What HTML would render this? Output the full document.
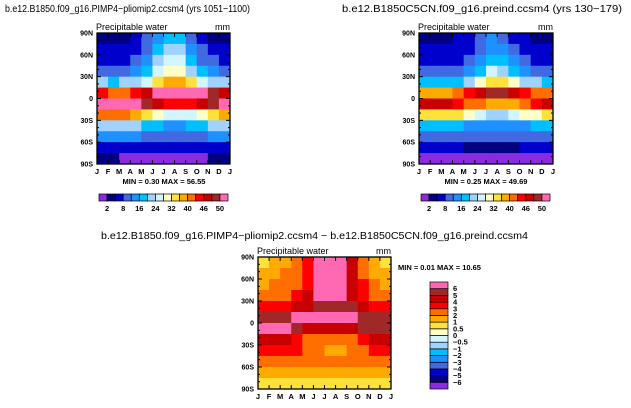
<!DOCTYPE html>
<html><head><meta charset="utf-8">
<style>
html,body{margin:0;padding:0;background:#fff;}
svg{display:block;font-family:"Liberation Sans",sans-serif;}
</style></head>
<body>
<svg id="fig" width="631" height="408" viewBox="0 0 631 408">
<text x="5" y="12" font-size="10" textLength="245" lengthAdjust="spacingAndGlyphs">b.e12.B1850.f09_g16.PIMP4−pliomip2.ccsm4 (yrs 1051−1100)</text>
<text x="342" y="12" font-size="10" textLength="280" lengthAdjust="spacingAndGlyphs">b.e12.B1850C5CN.f09_g16.preind.ccsm4 (yrs 130−179)</text>
<text x="101" y="239" font-size="10" textLength="427" lengthAdjust="spacingAndGlyphs">b.e12.B1850.f09_g16.PIMP4−pliomip2.ccsm4 − b.e12.B1850C5CN.f09_g16.preind.ccsm4</text>
</svg>
<script>
const months = ['J','F','M','A','M','J','J','A','S','O','N','D','J'];
const latTicks = ['90N','60N','30N','0','30S','60S','90S'];
const absLevels = [2,4,8,12,16,20,24,28,32,36,40,43,46,48,50];
const absLabels = ['2','','8','','16','','24','','32','','40','','46','','50'];
const absColors = ['#8a2be2','#000080','#0000cd','#4169e1','#1e90ff','#00bfff','#a0d2ff','#d2f5ff','#ffffc8','#ffe13c','#ffaa00','#ff6e00','#ff0000','#c80000','#a02828','#ff69b4'];
const diffLevels = [-6,-5,-4,-3,-2,-1,-0.5,0,0.5,1,2,3,4,5,6];
const diffLabels = ['−6','−5','−4','−3','−2','−1','−0.5','0','0.5','1','2','3','4','5','6'];
const diffColors = ['#8a2be2','#000080','#0000cd','#4169e1','#1e90ff','#00bfff','#a0d2ff','#d2f5ff','#ffffc8','#ffe13c','#ffaa00','#ff6e00','#ff0000','#c80000','#a02828','#ff69b4'];
// rows from 90N to 90S (15 deg bands), cols Jan..Dec
const plioPW = [
[3,3,3,4,8,13,18,17,9,5,3,3],
[4,4,5,6,10,16,22,20,13,8,5,4],
[6,6,7,9,13,20,26,24,17,11,8,7],
[10,10,11,13,18,25,31,30,23,16,12,11],
[20,19,20,22,26,32,37,37,33,27,23,21],
[44,42,42,44,47,51,53,53,52,50,48,46],
[51,51,51,50,48,46,44,44,45,47,49,50],
[40,41,41,38,33,28,25,25,27,31,35,38],
[22,22,22,20,18,16,15,15,16,18,20,21],
[13,13,13,12,11,10,10,10,10,11,12,13],
[6,6,6,5,4,4,4,4,4,5,5,6],
[2,2,1,1,1,1,1,1,1,1,2,2]];
const preindPW = [
[3,3,3,4,6,9,12,11,7,4,3,3],
[4,4,4,5,7,11,15,14,9,6,4,4],
[5,5,6,7,10,14,19,18,13,9,6,5],
[9,9,9,11,14,19,24,23,18,13,10,9],
[17,16,17,19,22,28,32,32,28,23,20,18],
[38,37,38,40,43,46,49,49,47,45,42,40],
[47,47,46,44,42,40,38,38,39,41,43,46],
[34,35,35,33,29,25,22,22,24,28,31,33],
[18,18,18,17,15,13,12,12,13,15,16,17],
[10,10,10,10,9,8,8,8,8,9,10,10],
[4,4,4,4,3,3,3,3,3,4,4,4],
[1,1,1,1,1,1,1,1,1,1,1,1]];
const diffPW = [
[0.7,1,1.5,2,3,6.5,7,7,4.5,2,1,0.5],
[1,1.5,2,2,3,6.5,7,7,4.5,2,1.5,1],
[1.5,2,2.5,2.5,3.5,6.5,7,7,4.5,3,2,1.5],
[2,2.5,2.5,3,4,6.5,7,6.5,4.5,3,2.5,2],
[3.5,3.5,3.5,4,4.5,5,5.5,5.5,5,4,3.5,3.5],
[5,5,5.5,6.5,7,7,7,7,6.5,5.5,5,5],
[6.5,6.5,6.5,5,4.5,4,4,4,4.5,5.5,5.5,5.5],
[4.5,4.5,4.5,3.5,2.5,2,2,2,2.5,3,4,4.5],
[3.5,3.5,3,3,2.5,2,1.8,1.5,2,2.5,3,3.5],
[2.5,2.5,2.5,2.5,2,2,2,2,2,2,2.5,2.5],
[1.5,1.5,1.5,1.5,1.5,1.5,1.5,1.5,1.5,1.5,1.5,1.5],
[0.7,0.7,0.8,0.8,0.8,0.8,0.8,0.8,0.8,0.8,0.7,0.7]];

const NS='http://www.w3.org/2000/svg';
const svg=document.getElementById('fig');
function mk(tag,attrs,parent){const e=document.createElementNS(NS,tag);for(const k in attrs)e.setAttribute(k,attrs[k]);(parent||svg).appendChild(e);return e;}
function colorFor(v,levels,colors){let i=0;while(i<levels.length&&v>=levels[i])i++;return colors[i];}

function panel(name,x0,y0,w,h,data,levels,colors,minmax,mmx,mmy,mmAnchor){
  const g=mk('g',{});
  
  
  const xs=c=>x0+c*w/12;
  const ys=r=>y0+r*h/12;
  data.forEach((row,r)=>row.forEach((v,c)=>{
    const cell=mk('rect',{x:xs(c),y:ys(r),width:w/12+0.5,height:h/12+0.5,fill:colorFor(v,levels,colors)},g);
    
    
  }));
  const fr=mk('rect',{x:x0,y:y0,width:w,height:h,fill:'none',stroke:'#000','stroke-width':1.3},g);
  
  
  months.forEach((m,i)=>{
    const x=xs(i);
    mk('line',{x1:x,y1:y0+h,x2:x,y2:y0+h-4,stroke:'#000'},g);
    mk('line',{x1:x,y1:y0,x2:x,y2:y0+4,stroke:'#000'},g);
    const t=mk('text',{x:x,y:y0+h+10,'font-size':7.5,'text-anchor':'middle','font-weight':'bold'},g);
    t.textContent=m;
    
    
  });
  latTicks.forEach((l,i)=>{
    const y=y0+i*h/6;
    mk('line',{x1:x0,y1:y,x2:x0+4,y2:y,stroke:'#000'},g);
    mk('line',{x1:x0+w,y1:y,x2:x0+w-4,y2:y,stroke:'#000'},g);
    const t=mk('text',{x:x0-4,y:y+2.5,'font-size':7,'text-anchor':'end','font-weight':'bold'},g);
    t.textContent=l;
    
    
  });
  for(let k=1;k<18;k++){if(k%3===0)continue;const y=y0+k*h/18;
    mk('line',{x1:x0,y1:y,x2:x0+2,y2:y,stroke:'#000'},g);mk('line',{x1:x0+w,y1:y,x2:x0+w-2,y2:y,stroke:'#000'},g);}
  const t1=mk('text',{x:x0-1,y:y0-3,'font-size':9},g);t1.textContent='Precipitable water';
  
  
  const t2=mk('text',{x:x0+w,y:y0-3,'font-size':9,'text-anchor':'end'},g);t2.textContent='mm';
  
  
  const t3=mk('text',{x:mmx,y:mmy,'font-size':7.5,'text-anchor':mmAnchor,'font-weight':'bold'},g);t3.textContent=minmax;
  
  
}
function hbar(name,x0,y0,w,h){
  const g=mk('g',{});
  
  
  const bw=w/absColors.length;
  absColors.forEach((c,i)=>{const r=mk('rect',{x:x0+i*bw,y:y0,width:bw,height:h,fill:c,stroke:'#000','stroke-width':0.7},g);
    
    });
  absLabels.forEach((l,i)=>{if(!l)return;const t=mk('text',{x:x0+(i+1)*bw,y:y0+h+10,'font-size':7.5,'text-anchor':'middle','font-weight':'bold'},g);t.textContent=l;
    
    });
}
function vbar(name,x0,y0,w,h){
  const g=mk('g',{});
  
  
  const n=diffColors.length,bh=h/n;
  diffColors.forEach((c,i)=>{const r=mk('rect',{x:x0,y:y0+(n-1-i)*bh,width:w,height:bh,fill:c,stroke:'#000','stroke-width':0.7},g);
    
    });
  diffLabels.forEach((l,i)=>{const t=mk('text',{x:x0+w+5,y:y0+(n-1-i)*bh+2.5,'font-size':7.5,'font-weight':'bold'},g);t.textContent=l;
    
    });
}
panel('pliocene-panel',97,33,133,131,plioPW,absLevels,absColors,'MIN =    0.30 MAX =   56.55',164,184,'middle');
panel('preind-panel',419,33,134,131,preindPW,absLevels,absColors,'MIN =    0.25 MAX =   49.69',486,184,'middle');
panel('diff-panel',258,257,133,132,diffPW,diffLevels,diffColors,'MIN =    0.01 MAX =   10.65',398,270,'start');
hbar('pliocene-colorbar',99,194,129,7);
hbar('preind-colorbar',421,194,129,7);
vbar('diff-colorbar',430,282,18,107);
</script>
</body></html>
